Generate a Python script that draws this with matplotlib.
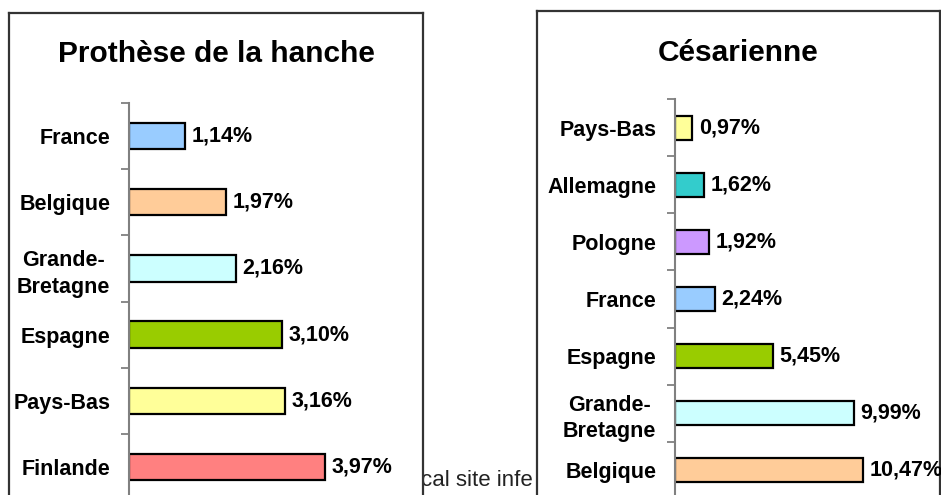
import numpy as np
import matplotlib
matplotlib.use('Agg')
import matplotlib.pyplot as plt

plt.rcParams['font.family'] = ['Liberation Sans', 'DejaVu Sans']

# Data
hip_countries = ['France', 'Belgique', 'Grande-\nBretagne', 'Espagne', 'Pays-Bas', 'Finlande']
hip_values = [1.14, 1.97, 2.16, 3.10, 3.16, 3.97]
hip_colors = ['#99CCFF', '#FFCC99', '#CCFFFF', '#99CC00', '#FFFF99', '#FF8080']

cs_countries = ['Pays-Bas', 'Allemagne', 'Pologne', 'France', 'Espagne',
                'Grande-\nBretagne', 'Belgique']
cs_values = [0.97, 1.62, 1.92, 2.24, 5.45, 9.99, 10.47]
cs_colors = ['#FFFF99', '#33CCCC', '#CC99FF', '#99CCFF', '#99CC00', '#CCFFFF', '#FFCC99']

W, H = 941, 495


def px_box(x0, y_top, x1, y_bot):
    """Pixel box -> figure fraction rect."""
    return [x0 / W, 1 - y_bot / H, (x1 - x0) / W, (y_bot - y_top) / H]


def panel_frame(fig, rect):
    ax = fig.add_axes(rect, zorder=0)
    ax.set_facecolor('white')
    ax.set_xticks([])
    ax.set_yticks([])
    for s in ax.spines.values():
        s.set_color('#333333')
        s.set_linewidth(1.6)
    return ax


def panel_bars(fig, rect, names, values, colors, xmax, bar_h):
    ax = fig.add_axes(rect, zorder=1)
    ax.patch.set_visible(False)
    n = len(names)
    y = np.arange(n)
    ax.barh(y, values, height=bar_h, color=colors, edgecolor='black', linewidth=1.6)
    for yi, v in zip(y, values):
        lab = f'{v:.2f}%'.replace('.', ',')
        ax.annotate(lab, (v, yi), xytext=(4.5, 0), textcoords='offset points',
                    va='center', ha='left', fontsize=15.5, fontweight='bold',
                    annotation_clip=False)
    ax.set_xlim(0, xmax)
    ax.set_ylim(n - 0.5, -0.5)
    for s in ['top', 'right', 'bottom']:
        ax.spines[s].set_visible(False)
    ax.spines['left'].set_color('#808080')
    ax.spines['left'].set_linewidth(1.5)
    ax.set_xticks([])
    ax.set_yticks(np.arange(n + 1) - 0.5)
    ax.set_yticklabels([])
    ax.tick_params(axis='y', which='major', length=5.5, width=1.3, color='#808080')
    ax.set_yticks(y, names, minor=True)
    ax.tick_params(axis='y', which='minor', length=0, pad=13.5)
    for t in ax.get_yticklabels(minor=True):
        t.set_fontsize(15.5)
        t.set_fontweight('bold')
        t.set_multialignment('center')
        t.set_linespacing(1.35)
    return ax


fig = plt.figure(figsize=(W / 100, H / 100), dpi=100)

# background page text, only the part that shows between the two panels
fig.text(421 / W, 1 - 486 / H, 'cal site infe', fontsize=16, color='#222222',
         ha='left', va='baseline', zorder=-1)

panel_frame(fig, px_box(9, 13, 423, 530))
panel_frame(fig, px_box(537, 11, 940, 530))

panel_bars(fig, px_box(129, 103, 410, 500), hip_countries, hip_values, hip_colors,
           (410 - 129) / 49.4, 0.4)
panel_bars(fig, px_box(675, 99, 930, 499), cs_countries, cs_values, cs_colors,
           (930 - 675) / 17.95, 0.42)

fig.text(216 / W, 1 - 62 / H, 'Prothèse de la hanche', fontsize=21.5, fontweight='bold',
         ha='center', va='baseline', zorder=5)
fig.text(738 / W, 1 - 61 / H, 'Césarienne', fontsize=21.5, fontweight='bold',
         ha='center', va='baseline', zorder=5)

fig.savefig('out.png', dpi=100)
